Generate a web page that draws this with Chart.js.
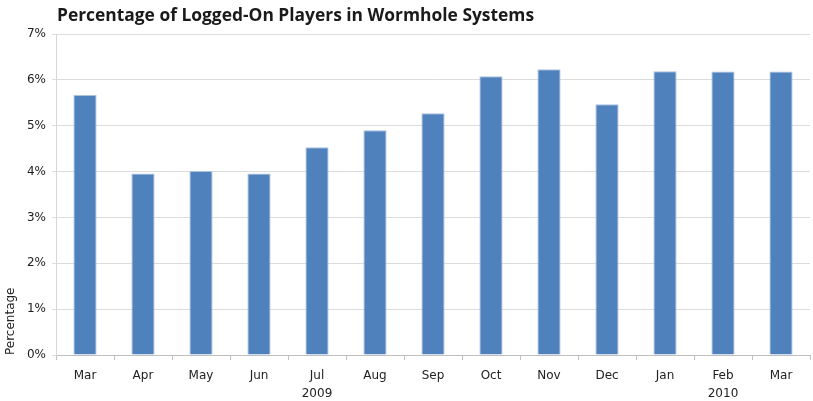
<!DOCTYPE html>
<html>
<head>
<meta charset="utf-8">
<title>Percentage of Logged-On Players in Wormhole Systems</title>
<script src="https://cdn.jsdelivr.net/npm/chart.js@4/dist/chart.umd.min.js"></script>
<style>
  html, body { margin: 0; padding: 0; background: #ffffff; }
  #wrap { width: 813px; height: 401px; }
</style>
</head>
<body>
<div id="wrap"><canvas id="chart" width="813" height="401"></canvas></div>
<script>
// Monthly share of logged-on players located in wormhole systems (%)
const months = ['Mar', 'Apr', 'May', 'Jun', 'Jul', 'Aug', 'Sep', 'Oct', 'Nov', 'Dec', 'Jan', 'Feb', 'Mar'];
const years  = ['', '', '', '', '2009', '', '', '', '', '', '', '2010', ''];
const percentages = [5.67, 3.96, 4.01, 3.96, 4.53, 4.90, 5.27, 6.08, 6.23, 5.47, 6.19, 6.18, 6.18];
const yTicks = [0, 1, 2, 3, 4, 5, 6, 7];

const titleText = 'Percentage of Logged-On Players in Wormhole Systems';
const TITLE_FONT = "'Open Sans', 'DejaVu Sans', sans-serif";
const FONT = "'DejaVu Sans', 'Open Sans', sans-serif";

// Month label with the year written underneath where one is given
const labels = months.map((m, i) => years[i] ? [m, years[i]] : m);

// Title drawn flush with the left edge of the plot area
const leftTitle = {
  id: 'leftTitle',
  afterDraw(chart) {
    const ctx = chart.ctx;
    ctx.save();
    ctx.font = "bold 17.4px " + TITLE_FONT;
    ctx.fillStyle = '#1a1a1a';
    ctx.textAlign = 'left';
    ctx.textBaseline = 'alphabetic';
    ctx.fillText(titleText, chart.chartArea.left + 1, 21);
    ctx.restore();
  }
};

new Chart(document.getElementById('chart'), {
  type: 'bar',
  data: {
    labels: labels,
    datasets: [{
      data: percentages,
      backgroundColor: '#4f81bd',
      borderColor: '#a9c0de',
      borderWidth: 1,
      barPercentage: 0.4,
      categoryPercentage: 1.0
    }]
  },
  options: {
    responsive: false,
    animation: false,
    layout: { padding: { top: 34, right: 3, left: 0, bottom: 0 } },
    plugins: {
      legend: { display: false },
      title: { display: false },
      tooltip: { enabled: false }
    },
    scales: {
      x: {
        offset: true,
        grid: {
          offset: true,
          drawOnChartArea: false,
          drawTicks: true,
          tickLength: 5,
          color: '#bfbfbf'
        },
        border: { display: true, color: '#bfbfbf', width: 1 },
        ticks: {
          color: '#222222',
          font: { family: FONT, size: 12, lineHeight: 1.5 },
          padding: 7,
          maxRotation: 0,
          autoSkip: false
        },
        afterFit(scale) { scale.height = 46; }
      },
      y: {
        min: 0,
        max: 7,
        afterBuildTicks(scale) { scale.ticks = yTicks.map(v => ({ value: v })); },
        grid: {
          color: '#dcdcdc',
          tickLength: 4,
          drawTicks: true
        },
        border: { display: true, color: '#d6d6d6', width: 1 },
        ticks: {
          color: '#222222',
          font: { family: FONT, size: 12 },
          padding: 6,
          callback: v => v + '%'
        },
        title: {
          display: true,
          text: 'Percentage',
          align: 'start',
          color: '#222222',
          font: { family: FONT, size: 12 },
          padding: { top: 4, bottom: 0 }
        },
        afterFit(scale) { scale.width = 56; }
      }
    }
  },
  plugins: [leftTitle]
});
</script>
</body>
</html>
